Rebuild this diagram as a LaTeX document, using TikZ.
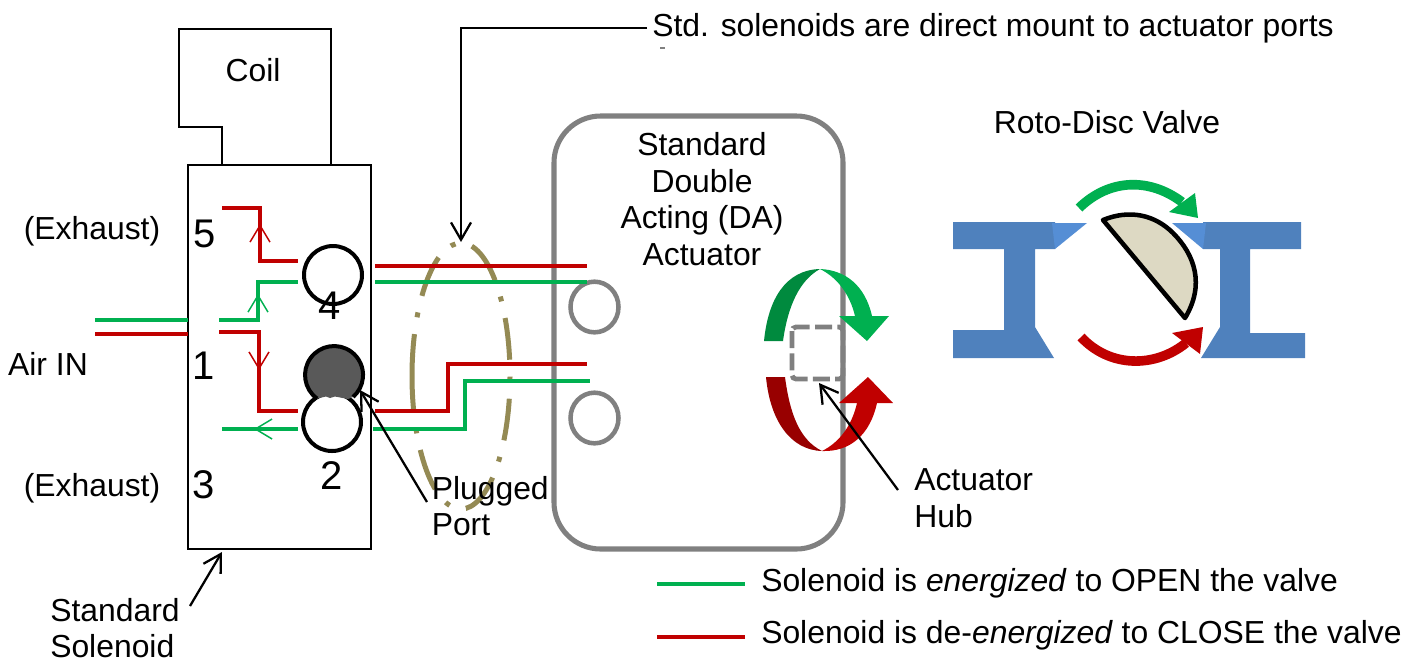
\documentclass[tikz,border=0pt]{standalone}
\usepackage{fontspec}
\setmainfont{Liberation Sans}
\usetikzlibrary{arrows.meta, shapes.geometric}
\definecolor{airgreen}{HTML}{00B050}
\definecolor{airdkgreen}{HTML}{008A3E}
\definecolor{airred}{HTML}{C00000}
\definecolor{airdkred}{HTML}{980000}
\definecolor{bodygray}{HTML}{808080}
\definecolor{plugfill}{HTML}{595959}
\definecolor{tanline}{HTML}{948A54}
\definecolor{valveblue}{HTML}{4F81BD}
\definecolor{wedgeblue}{HTML}{558ED5}
\definecolor{discfill}{HTML}{DDD9C3}
\tikzstyle{label} = [font=\fontsize{23.9pt}{27.4pt}\selectfont, inner sep=0pt]
\tikzstyle{num} = [font=\fontsize{30pt}{34pt}\selectfont, inner sep=0pt]
\tikzstyle{portcircle} = [circle, draw=black, line width=3pt, fill=white, minimum size=43.5pt, inner sep=0pt]
\tikzstyle{hole} = [ellipse, draw=bodygray, line width=3.4pt, minimum width=36pt, minimum height=38pt, inner sep=0pt]
\tikzstyle{pipe} = [line width=2.6pt]
\tikzstyle{lead} = [black, line width=1.7pt, -{Straight Barb[length=13pt,width=15pt]}]
\tikzstyle{flow} = [line width=1.1pt, -{Straight Barb[length=12.5pt,width=15pt]}]

\begin{document}
\begin{tikzpicture}[x=0.75pt, y=-0.75pt]
  \useasboundingbox (0,0) rectangle (1417,662);

  \draw[black, line width=1.9pt] (222,165) -- (222,127) -- (179,127) -- (179,29) -- (331,29) -- (331,165);
  \node (coil) [label] at (253,70) {Coil};
  \node (solenoid) [draw=black, line width=1.9pt, minimum width=137.25pt, minimum height=288pt, inner sep=0pt, outer sep=0pt] at (279.5,357) {};
  \node (actuator) [draw=bodygray, line width=3.8pt, rounded corners=35pt, minimum width=216.75pt, minimum height=324.75pt, inner sep=0pt, outer sep=0pt] at (698.5,332.5) {};

  \node (ex5) [label] at (92,231) {(Exhaust)};
  \node (ex3) [label] at (92,488.5) {(Exhaust)};
  \node (air) [label] at (48,364) {Air IN};
  \node (n5) [num] at (205,234) {5};
  \node (n1) [num] at (203.5,366) {1};
  \node (n3) [num] at (204,485) {3};

  \node (hole4) [hole] at (594.5,307) {};
  \node (hole2) [hole] at (594.5,418) {};
  \node (port4) [portcircle] at (333,275) {};
  \node (port2) [portcircle] at (332,422) {};
  \node (plug) [circle, minimum size=43.5pt, inner sep=0pt] at (334,375) {};
  \fill[plugfill] (317,398.5) arc[start angle=126, end angle=409, radius=29] -- (348,399) -- (335,396.5) -- (330,398) -- (326,396.5) -- cycle;
  \draw[black, line width=3pt] (317,398.5) arc[start angle=126, end angle=409, radius=29];
  \node (n4) [num] at (330,306) {4};
  \node (n2) [num] at (331.5,476) {2};

  \coordinate (airGin) at (95,320);
  \coordinate (airGout) at (188,320);
  \coordinate (airRin) at (95,334);
  \coordinate (airRout) at (188,334);
  \draw[pipe, airgreen] (airGin) -- (airGout);
  \draw[pipe, airred] (airRin) -- (airRout);

  \coordinate (exR) at (222,208);
  \coordinate (tipRup) at (260,224);
  \coordinate (p4R) at (298,261);
  \draw[pipe, airred] (exR) -| (tipRup) |- (p4R);
  \draw[flow, airred] (260,245) -- (tipRup);

  \coordinate (inG) at (219,320);
  \coordinate (tipGup) at (258,294);
  \coordinate (p4G) at (298,282);
  \draw[pipe, airgreen] (inG) -| (tipGup) |- (p4G);
  \draw[flow, airgreen] (258,315) -- (tipGup);

  \coordinate (inR) at (219,332);
  \coordinate (tipRdn) at (259,370);
  \coordinate (p2R) at (298,411);
  \draw[pipe, airred] (inR) -| (tipRdn) |- (p2R);
  \draw[flow, airred] (259,350) -- (tipRdn);

  \coordinate (p2G) at (298,429);
  \coordinate (exG) at (222,429);
  \coordinate (tipGlf) at (254,429);
  \draw[pipe, airgreen] (p2G) -- (exG);
  \draw[flow, airgreen] (275,429) -- (tipGlf);

  \coordinate (o4R) at (375,266);
  \coordinate (a4R) at (587,266);
  \coordinate (o4G) at (375,282);
  \coordinate (a4G) at (587,282);
  \coordinate (o2R) at (375,411);
  \coordinate (k2R) at (448,388);
  \coordinate (a2R) at (587,364);
  \coordinate (o2G) at (373,429);
  \coordinate (k2G) at (465,405);
  \coordinate (a2G) at (590,381);
  \draw[line width=3.75pt, tanline, dash pattern=on 31.5pt off 12.75pt on 3.75pt off 12.75pt] (412,376) arc[start angle=180, end angle=540, x radius=49, y radius=133];
  \draw[pipe, airred] (o4R) -- (a4R);
  \draw[pipe, airgreen] (o4G) -- (a4G);
  \draw[pipe, airred] (o2R) -| (k2R) |- (a2R);
  \draw[pipe, airgreen] (o2G) -| (k2G) |- (a2G);

  \node (stdnote) [label, anchor=west] at (652,28) {Std. solenoids are direct mount to actuator ports};
  \coordinate (noteStart) at (647,28);
  \coordinate (noteK) at (461,28);
  \coordinate (noteTip) at (461,242);
  \draw[lead] (noteStart) -- (noteK) -- (noteTip);
  \draw[gray, line width=0.8pt] (660,48) -- (665,48);

  \node (actlabel) [label, align=center] at (702,199) {Standard\\Double\\Acting (DA)\\Actuator};

  \fill[airdkgreen] (764,341) .. controls (768,300) and (785,270) .. (820,269) .. controls (800,280) and (788,305) .. (783,341) -- cycle;
  \fill[airgreen] (820,269) .. controls (845,270) and (865,285) .. (872,316) -- (889,316) -- (867,341) -- (839,316) -- (855,316) .. controls (850,295) and (838,278) .. (820,269) -- cycle;
  \fill[airdkred] (766,377) .. controls (770,420) and (790,450) .. (822,451) .. controls (800,440) and (790,415) .. (785,377) -- cycle;
  \fill[airred] (822,451) .. controls (850,452) and (870,435) .. (877,403) -- (893,403) -- (868,377) -- (839,403) -- (857,403) .. controls (852,425) and (840,442) .. (822,451) -- cycle;
  \draw[bodygray, line width=3.6pt, rounded corners=3pt, dash pattern=on 12.75pt off 4pt] (792,327) rectangle (843,379);

  \coordinate (hubTail) at (898,490);
  \coordinate (hubTip) at (819,383);
  \draw[lead] (hubTail) -- (hubTip);
  \node (hub) [label, anchor=west, align=left] at (914,498) {Actuator\\Hub};

  \coordinate (plugTail) at (427,502);
  \coordinate (plugTip) at (360,390);
  \draw[lead] (plugTail) -- (plugTip);
  \node (plugged) [label, anchor=west, align=left] at (431.5,506) {Plugged\\Port};

  \coordinate (solTail) at (190,606);
  \coordinate (solTip) at (222,552);
  \draw[lead] (solTail) -- (solTip);
  \node (sollabel) [label, anchor=west, align=left] at (50,628) {Standard\\Solenoid};

  \node (roto) [label] at (1107,122) {Roto-Disc Valve};
  \fill[valveblue] (953,222) -- (1055,222) -- (1055,249) -- (1035,249) -- (1035,327) -- (1054,358) -- (953,358) -- (953,330) -- (1004,330) -- (1004,249) -- (953,249) -- cycle;
  \fill[valveblue] (1203,222) -- (1301,222) -- (1301,249) -- (1250,249) -- (1250,333) -- (1305,333) -- (1305,358) -- (1201,358) -- (1220,327) -- (1220,249) -- (1203,249) -- cycle;
  \fill[wedgeblue] (1052,223) -- (1087,223) -- (1055,249) -- cycle;
  \fill[wedgeblue] (1172,223) -- (1206,223) -- (1203,249) -- cycle;
  \draw[black, line width=3.4pt, line join=round, fill=discfill] (1103,220) .. controls (1130,209) and (1155,215) .. (1173,233) .. controls (1195,255) and (1205,285) .. (1185,318) -- cycle;

  \draw[airgreen, line width=7.2pt] (1079,208) .. controls (1110,178) and (1150,178) .. (1182,202);
  \fill[airgreen] (1198,218) -- (1195,193) -- (1169,212) -- cycle;
  \draw[airred, line width=7.2pt] (1081,337) .. controls (1110,368) and (1155,368) .. (1186,343);
  \fill[airred] (1203,327) -- (1200,354) -- (1172,333) -- cycle;

  \coordinate (legGa) at (657,584);
  \coordinate (legGb) at (745,584);
  \coordinate (legRa) at (657,637);
  \coordinate (legRb) at (745,637);
  \draw[pipe, airgreen] (legGa) -- (legGb);
  \draw[pipe, airred] (legRa) -- (legRb);
  \node (leggreen) [label, anchor=west] at (761,583) {Solenoid is \textit{energized} to OPEN the valve};
  \node (legred) [label, anchor=west] at (761,635) {Solenoid is de-\textit{energized} to CLOSE the valve};
\end{tikzpicture}
\end{document}
